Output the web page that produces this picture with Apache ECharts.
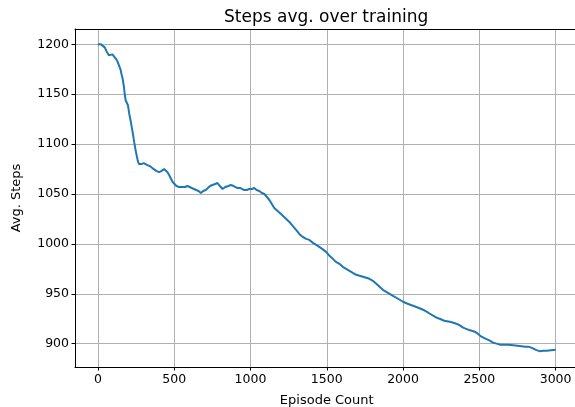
<!DOCTYPE html>
<html><head><meta charset="utf-8">
<script src="https://cdn.jsdelivr.net/npm/echarts@6/dist/echarts.min.js"></script>
<style>html,body{margin:0;padding:0;background:#fff}#c{width:575px;height:407px}</style>
</head><body><div id="c"></div>
<script>
const episodes = [0,20,25,45,50,60,72,85,95,105,116,128,138,148,155,163,171,176,182,190,197,205,214,222,230,238,247,255,262,270,285,300,313,325,340,357,370,385,401,415,425,434,445,455,467,480,490,499,515,532,550,570,587,600,615,630,642,660,675,690,707,720,735,751,768,784,800,817,835,855,872,890,915,935,959,975,992,1010,1025,1040,1058,1075,1091,1108,1124,1140,1156,1178,1200,1228,1255,1277,1299,1320,1343,1365,1386,1410,1441,1470,1496,1518,1540,1560,1583,1605,1627,1649,1671,1693,1715,1737,1759,1780,1802,1825,1846,1868,1890,1912,1934,1956,1978,2000,2030,2065,2100,2131,2165,2197,2220,2240,2270,2306,2330,2350,2375,2394,2410,2427,2450,2470,2490,2514,2540,2569,2590,2613,2635,2656,2690,2722,2750,2777,2800,2821,2840,2854,2875,2894,2920,2942,2970,3000];
const avgSteps = [1200,1200,1198,1197,1195,1192,1189,1190,1190,1188,1186,1183,1179,1175,1170,1165,1157,1150,1144,1142,1139,1131,1124,1117,1110,1102,1094,1088,1083,1080,1080,1081,1080,1079,1078,1076,1075,1073,1072,1073,1074,1075,1075,1072,1069,1065,1062,1060,1058,1057,1057,1057,1058,1057,1056,1055,1054,1053,1051,1053,1054,1056,1058,1059,1060,1061,1058,1055,1057,1058,1059,1058,1056,1056,1054,1054,1055,1055,1056,1054,1053,1051,1050,1047,1044,1040,1036,1033,1030,1026,1022,1018,1014,1010,1007,1005,1004,1001,998,995,992,988,985,982,980,977,975,973,971,969,968,967,966,965,963,960,957,954,952,950,948,946,944,942,940,938,936,934,931,928,926,925,923,922,921,920,918,916,915,914,913,912,910,907,905,903,901,900,899,899,899,898.5,898,897.5,897,897,896,895,893.5,892.5,893,893,893.5,894];
const xTicks = [0,500,1000,1500,2000,2500,3000];
const yTicks = [900,950,1000,1050,1100,1150,1200];
const titleText = "Steps avg. over training";
const xName = "Episode Count";
const yName = "Avg. Steps";

const FONT = "DejaVu Sans";
const plain = (v) => String(v);
const chart = echarts.init(document.getElementById('c'), null, {renderer:'canvas'});
chart.setOption({
  animation:false,
  backgroundColor:'#fff',
  title:{text:titleText,left:219,top:4,textStyle:{fontFamily:FONT,fontSize:17,fontWeight:'normal',color:'#000'}},
  grid:{left:75,top:29,width:503.5,height:338,containLabel:false,outerBoundsMode:'none'},
  xAxis:[{
    type:'value',min:-150,max:3150,
    name:xName,nameLocation:'middle',nameGap:27,
    nameTextStyle:{fontFamily:FONT,fontSize:13,color:'#000'},
    axisLine:{show:true,onZero:false,lineStyle:{color:'#000',width:1}},
    axisTick:{show:true,length:3.5,lineStyle:{color:'#000'},customValues:xTicks},
    axisLabel:{fontFamily:FONT,fontSize:12.5,color:'#000',margin:6,customValues:xTicks,formatter:plain},
    splitLine:{show:true,lineStyle:{color:'#b0b0b0',width:1}}
  },{
    type:'value',position:'top',min:-150,max:3150,
    axisLine:{show:true,onZero:false,lineStyle:{color:'#000',width:1}},
    axisTick:{show:false},axisLabel:{show:false},splitLine:{show:false}
  }],
  yAxis:{
    type:'value',min:876.6,max:1215.4,
    name:yName,nameLocation:'middle',nameGap:52,nameRotate:90,
    nameTextStyle:{fontFamily:FONT,fontSize:13,color:'#000'},
    axisLine:{show:true,onZero:false,lineStyle:{color:'#000',width:1}},
    axisTick:{show:true,length:3.5,lineStyle:{color:'#000'},customValues:yTicks},
    axisLabel:{fontFamily:FONT,fontSize:12.5,color:'#000',margin:6,customValues:yTicks,formatter:plain},
    splitLine:{show:true,lineStyle:{color:'#b0b0b0',width:1}}
  },
  series:[{
    type:'line',xAxisIndex:0,
    data:episodes.map((e,i)=>[e,avgSteps[i]]),
    showSymbol:false,symbol:'none',
    lineStyle:{color:'#1f77b4',width:2},
    z:3
  }]
});
</script></body></html>
